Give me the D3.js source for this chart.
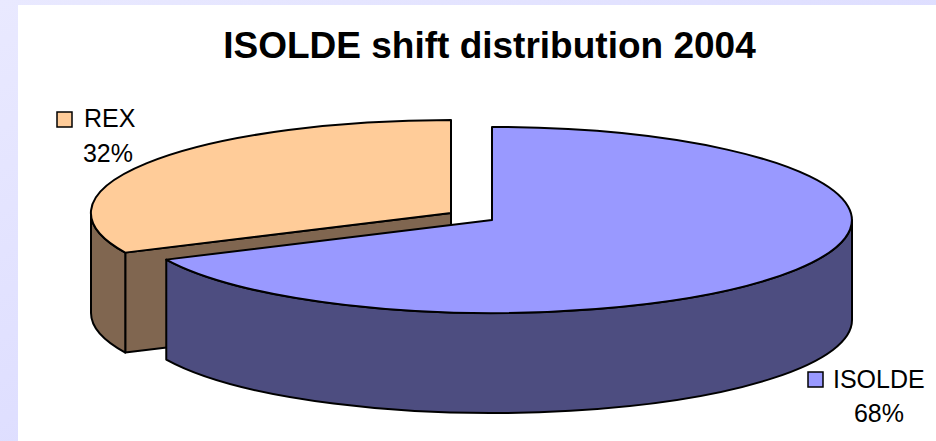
<!DOCTYPE html>
<html>
    <head>
        <title>ISOLDE shift distribution 2004</title>
        <script src="https://d3js.org/d3.v7.min.js"></script>
        <style>
            html, body {
                margin: 0;
                padding: 0;
                background: white;
            }
            svg {
                display: block;
                font-family: "Liberation Sans", Arial, sans-serif;
            }
            .edge {
                stroke: black;
                stroke-width: 2;
                stroke-linejoin: round;
                vector-effect: non-scaling-stroke;
            }
        </style>
    </head>
    <body>
        <svg></svg>
        <script>
            //Values
            let categories = ["ISOLDE", "REX"]
            let shares = [68, 32]
            let topColors = ["#9999ff", "#ffcc99"]
            let sideColors = ["#4d4d80", "#806650"]

            let width = 936, height = 441

            //Shape of the tilted pie
            let rx = 360, ry = 93, depth = 100

            //Slice centres, REX is pulled out of the pie
            let centers = {
                ISOLDE: [492, 220],
                REX: [451, 213]
            }

            //Legend text positions
            let labels = {
                ISOLDE: { key: [808, 372], name: [833, 388], pct: [879, 422] },
                REX: { key: [57, 112], name: [84, 127], pct: [108, 162] }
            }

            let svg = d3.select("svg")
                .attr("width", width)
                .attr("height", height)
                .attr("viewBox", "0 0 " + width + " " + height)

            //Slide background fades slightly towards the bottom right
            let fade = svg.append("defs")
                .append("linearGradient")
                .attr("id", "slide")
                .attr("x1", 0)
                .attr("y1", 0)
                .attr("x2", 1)
                .attr("y2", 1)

            fade.append("stop").attr("offset", 0).attr("stop-color", "#e9e9ff")
            fade.append("stop").attr("offset", 1).attr("stop-color", "#d4d4ff")

            svg.append("rect")
                .attr("width", width)
                .attr("height", height)
                .attr("fill", "url(#slide)")

            svg.append("rect")
                .attr("x", 18)
                .attr("y", 5)
                .attr("width", width - 18)
                .attr("height", height - 5)
                .attr("fill", "white")

            svg.append("text")
                .attr("x", 489.5)
                .attr("y", 58)
                .attr("text-anchor", "middle")
                .attr("font-size", 37)
                .attr("font-weight", "bold")
                .text("ISOLDE shift distribution 2004")

            let slices = d3.pie().sort(null)(shares)

            //The whole pie is drawn on a unit circle and squashed by a transform
            let arc = d3.arc().innerRadius(0).outerRadius(1)
            let yScale = d3.scaleLinear().domain([0, 1]).range([0, ry])

            function pos(angle) {
                return [Math.sin(angle), -Math.cos(angle)]
            }

            //Outer wall between two pie angles
            function wall(a0, a1) {
                let d = yScale.invert(depth)
                let p = d3.path()
                p.arc(0, 0, 1, a0 - Math.PI / 2, a1 - Math.PI / 2)
                p.arc(0, d, 1, a1 - Math.PI / 2, a0 - Math.PI / 2, true)
                p.closePath()
                return p.toString()
            }

            //Cut face running from the centre to the rim
            function cut(angle) {
                let d = yScale.invert(depth)
                let e = pos(angle)
                let p = d3.path()
                p.moveTo(0, 0)
                p.lineTo(e[0], e[1])
                p.lineTo(e[0], e[1] + d)
                p.lineTo(0, d)
                p.closePath()
                return p.toString()
            }

            //REX goes first so that ISOLDE sits in front of it
            let order = [1, 0]

            order.forEach(function(i) {
                let s = slices[i]
                let name = categories[i]
                let g = svg.append("g")
                    .attr("transform", "translate(" + centers[name] + ") scale(" + rx + "," + ry + ")")

                //Only the part of the rim facing the viewer has a visible wall
                let from = Math.max(s.startAngle, Math.PI / 2)
                let to = Math.min(s.endAngle, Math.PI * 1.5)

                if (name == "REX") {
                    g.append("path")
                        .attr("class", "edge")
                        .attr("d", cut(s.startAngle))
                        .attr("fill", sideColors[i])
                }

                g.append("path")
                    .attr("class", "edge")
                    .attr("d", wall(from, to))
                    .attr("fill", sideColors[i])

                g.append("path")
                    .attr("class", "edge")
                    .attr("d", arc(s))
                    .attr("fill", topColors[i])
            })

            //Legend keys and labels
            let legend = svg.append("g")
                .selectAll("g")
                .data(categories)
                .enter()
                .append("g")

            legend.append("rect")
                .attr("x", d => labels[d].key[0])
                .attr("y", d => labels[d].key[1])
                .attr("width", 15)
                .attr("height", 15)
                .attr("fill", (d, i) => topColors[i])
                .attr("stroke", "black")
                .attr("stroke-width", 1.5)

            legend.append("text")
                .attr("x", d => labels[d].name[0])
                .attr("y", d => labels[d].name[1])
                .attr("font-size", 25)
                .text(d => d)

            legend.append("text")
                .attr("x", d => labels[d].pct[0])
                .attr("y", d => labels[d].pct[1])
                .attr("text-anchor", "middle")
                .attr("font-size", 25)
                .text((d, i) => shares[i] + "%")
        </script>
    </body>
</html>
